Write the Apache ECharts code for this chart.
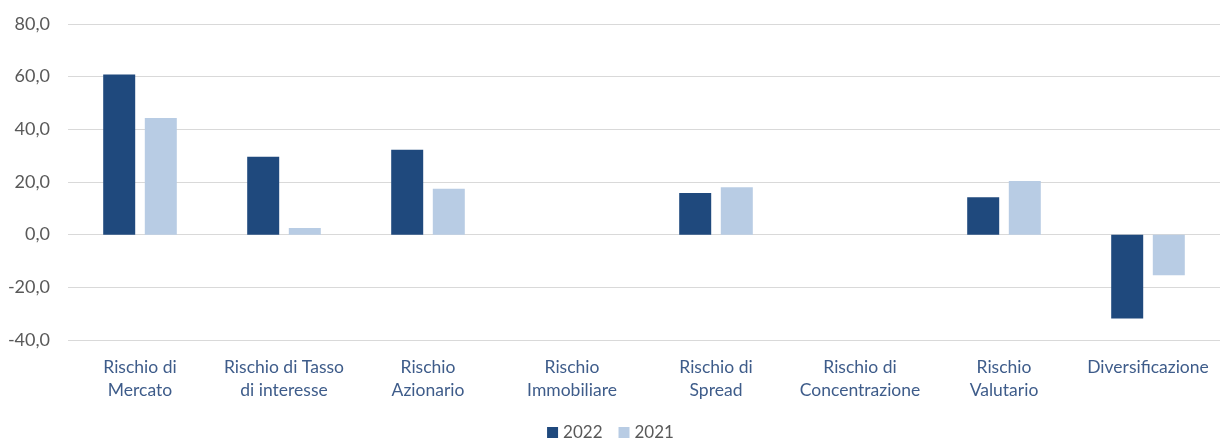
<!DOCTYPE html>
<html>
<head>
<meta charset="utf-8">
<script src="https://cdn.jsdelivr.net/npm/echarts@6/dist/echarts.min.js"></script>
<style>html,body{margin:0;padding:0;background:#fff}#c{width:1221px;height:439px}</style>
</head>
<body>
<div id="c"></div>
<script>
const categories = ['Rischio di\nMercato','Rischio di Tasso\ndi interesse','Rischio\nAzionario','Rischio\nImmobiliare','Rischio di\nSpread','Rischio di\nConcentrazione','Rischio\nValutario','Diversificazione'];
const values2022 = [60.8, 29.6, 32.2, 0, 15.8, 0, 14.2, -31.8];
const values2021 = [44.3, 2.5, 17.4, 0, 18.0, 0, 20.4, -15.4];
const yTicks = {min: -40, max: 80, interval: 20};

const chart = echarts.init(document.getElementById('c'), null, {renderer: 'canvas'});
const font = 'Lato, "Liberation Sans", sans-serif';
chart.setOption({
  animation: false,
  textStyle: {fontFamily: font},
  grid: {left: 68, right: 1, top: 24, bottom: 99},
  legend: {
    top: 424, left: 'center', padding: 0,
    icon: 'rect', itemWidth: 11, itemHeight: 11, itemGap: 16, itemStyle: {borderWidth: 0},
    textStyle: {fontSize: 17, lineHeight: 17, color: '#595959', fontFamily: font},
    data: ['2022', '2021']
  },
  xAxis: {
    type: 'category', data: categories,
    axisLine: {show: false}, axisTick: {show: false},
    axisLabel: {fontSize: 17.5, color: '#3E5C8A', lineHeight: 23, margin: 16, interval: 0, fontFamily: font}
  },
  yAxis: {
    type: 'value', min: yTicks.min, max: yTicks.max, interval: yTicks.interval,
    axisLine: {show: false}, axisTick: {show: false},
    axisLabel: {fontSize: 18, color: '#595959', margin: 18, fontFamily: font,
      formatter: v => v.toFixed(1).replace('.', ',')},
    splitLine: {lineStyle: {color: '#d9d9d9', width: 1}}
  },
  series: [
    {name: '2022', type: 'bar', data: values2022, barWidth: 32, barGap: '30%', itemStyle: {color: '#1F497D'}},
    {name: '2021', type: 'bar', data: values2021, barWidth: 32, itemStyle: {color: '#B8CCE4'}}
  ]
});
</script>
</body>
</html>
